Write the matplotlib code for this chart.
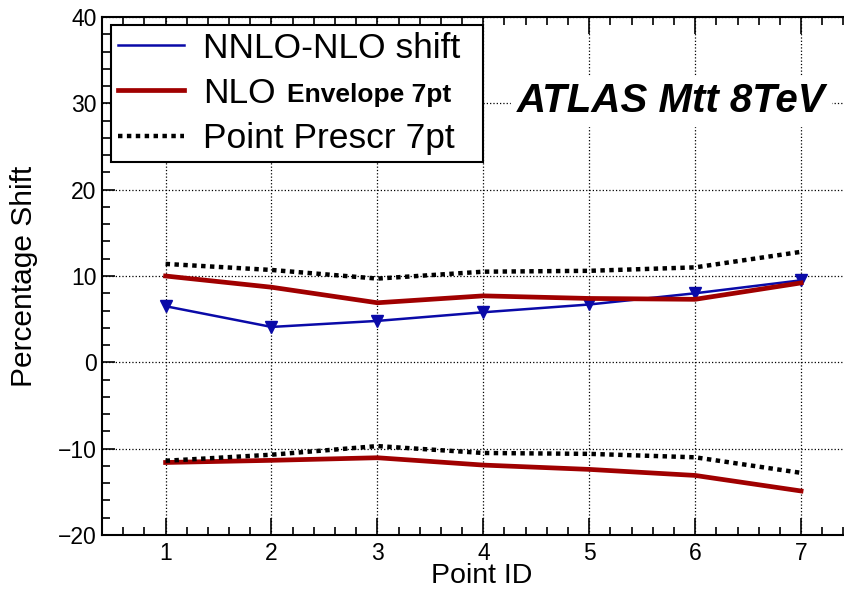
import matplotlib.pyplot as plt
from matplotlib.ticker import MultipleLocator

plt.rcParams['font.family'] = ['Liberation Sans', 'DejaVu Sans']

point_id = [1, 2, 3, 4, 5, 6, 7]
nnlo_nlo_shift = [6.5, 4.1, 4.8, 5.8, 6.7, 8.0, 9.5]
nlo_env_up = [10.0, 8.7, 6.9, 7.7, 7.4, 7.3, 9.2]
nlo_env_down = [-11.6, -11.35, -11.05, -11.9, -12.4, -13.1, -14.9]
prescr_up = [11.4, 10.7, 9.7, 10.5, 10.6, 11.0, 12.8]
prescr_down = [-11.4, -10.7, -9.7, -10.5, -10.6, -11.0, -12.8]

fig = plt.figure(figsize=(8.44, 5.90), dpi=100)
ax = fig.add_axes([0.1209, 0.0932, 0.9035, 0.878])

ax.plot(point_id, nnlo_nlo_shift, color='#0a0aa8', lw=1.8, marker='v', ms=8,
        label='NNLO-NLO shift')
ax.plot(point_id, nlo_env_up, color='#a00000', lw=3.4, label='NLO')
ax.plot(point_id, nlo_env_down, color='#a00000', lw=3.4)
ax.plot(point_id, prescr_up, color='black', lw=3.2, ls=(0, (1, 1)),
        label='Point Prescr 7pt')
ax.plot(point_id, prescr_down, color='black', lw=3.2, ls=(0, (1, 1)))

ax.set_xlim(0.4, 7.6)
ax.set_ylim(-20, 40)
ax.xaxis.set_major_locator(MultipleLocator(1))
ax.xaxis.set_minor_locator(MultipleLocator(0.2))
ax.yaxis.set_major_locator(MultipleLocator(10))
ax.yaxis.set_minor_locator(MultipleLocator(2))
ax.tick_params(which='both', direction='in', top=True, right=True, width=1.2,
               labelsize=16.5)
ax.tick_params(axis='x', which='major', length=12, pad=5)
ax.tick_params(axis='y', which='major', length=9, pad=4)
ax.tick_params(which='minor', length=5.5)
ax.grid(True, which='major', ls=':', color='black', lw=0.9)
for s in ax.spines.values():
    s.set_linewidth(1.5)

ax.set_xlabel('Point ID', fontsize=20.5, va='baseline')
ax.xaxis.set_label_coords(0.498, -0.0927)
ax.set_ylabel('Percentage Shift', fontsize=21.5)
ax.yaxis.set_label_coords(-0.084, 0.5)

leg = ax.legend(loc='upper left', bbox_to_anchor=(0.0118, 0.985, 0.488, 0.0),
                mode='expand', fontsize=25.5,
                frameon=True, fancybox=False, framealpha=1, edgecolor='black',
                borderpad=0.2, labelspacing=0.34, handlelength=1.85,
                handletextpad=0.55, borderaxespad=0)
leg.get_frame().set_linewidth(1.5)
leg.legend_handles[0].set_marker('')
nlo_text = leg.get_texts()[1]
ax.annotate('Envelope 7pt', xy=(1, 0), xycoords=nlo_text, xytext=(8, 2),
            textcoords='offset points', fontsize=19, fontweight='bold',
            va='bottom', ha='left', zorder=10)

ax.text(0.795, 0.829, 'ATLAS Mtt 8TeV', transform=fig.transFigure,
        fontsize=29, fontweight='bold', style='italic', ha='center',
        va='center', backgroundcolor='white')

fig.savefig('out.png', dpi=100)
